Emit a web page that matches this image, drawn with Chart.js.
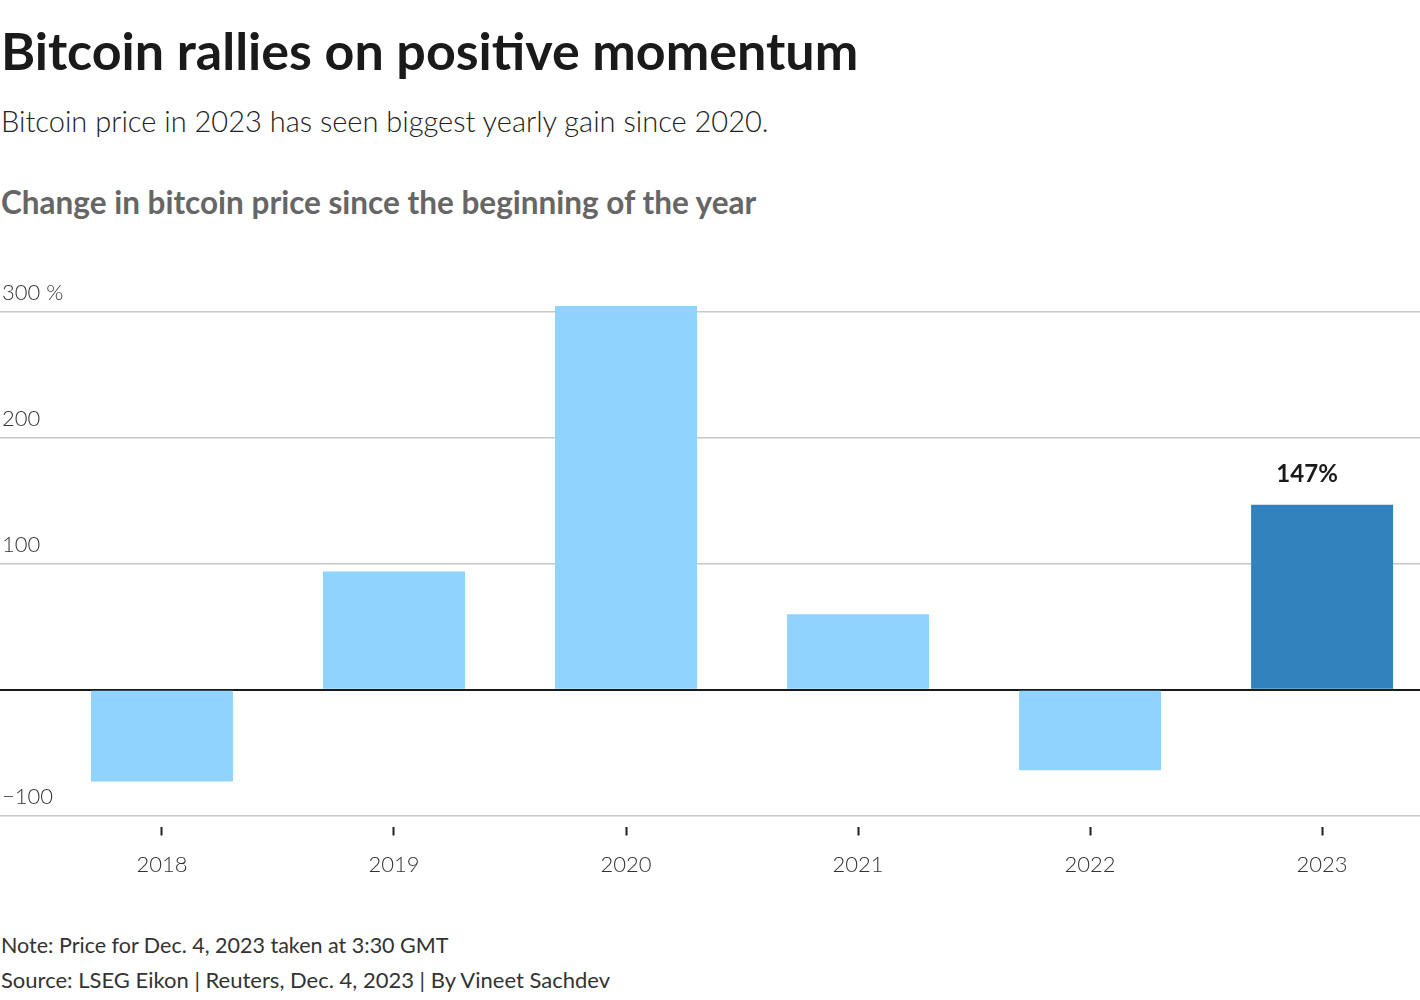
<!DOCTYPE html>
<html lang="en">
<head>
  <meta charset="UTF-8">
  <title>Bitcoin rallies on positive momentum</title>
  <script src="https://cdn.jsdelivr.net/npm/chart.js"></script>
  <style>
    body { margin: 0; width: 1420px; height: 1000px; overflow: hidden; background: #fff; font-family: Lato, sans-serif; color: #1a1a1a; position: relative; }
    .txt { position: absolute; left: 1px; white-space: nowrap; }
    #title { top: 19px; font-size: 52px; font-weight: 700; }
    #subtitle { top: 103px; font-size: 29px; font-weight: 300; color: #222; }
    #chartTitle { top: 183px; font-size: 31.5px; font-weight: 700; color: #666; }
    #note { top: 932px; font-size: 21.5px; color: #333; }
    #source { top: 966px; font-size: 22px; color: #333; }
    #chartBox { position: absolute; left: 0; top: 240px; width: 1420px; height: 680px; }
  </style>
</head>
<body>
  <div class="txt" id="title">Bitcoin rallies on positive momentum</div>
  <div class="txt" id="subtitle">Bitcoin price in 2023 has seen biggest yearly gain since 2020.</div>
  <div class="txt" id="chartTitle">Change in bitcoin price since the beginning of the year</div>
  <div id="chartBox"><canvas id="btcChart"></canvas></div>
  <div class="txt" id="note">Note: Price for Dec. 4, 2023 taken at 3:30 GMT</div>
  <div class="txt" id="source">Source: LSEG Eikon | Reuters, Dec. 4, 2023 | By Vineet Sachdev</div>
  <script>
    // values (% change since start of year)
    const years = [2018, 2019, 2020, 2021, 2022, 2023];
    const changes = [-73, 94, 305, 60, -64, 147];
    const barLabels = ['', '', '', '', '', '147%'];
    const yTicks = [-100, 0, 100, 200, 300];

    const lightBlue = '#8fd3fe';
    const darkBlue = '#3182bd';

    const valueLabels = {
      id: 'valueLabels',
      afterDatasetsDraw(chart) {
        const ctx = chart.ctx;
        const bars = chart.getDatasetMeta(0).data;
        ctx.save();
        ctx.font = 'bold 24px Lato, sans-serif';
        ctx.fillStyle = '#1a1a1a';
        ctx.textAlign = 'center';
        ctx.textBaseline = 'bottom';
        bars.forEach((bar, i) => {
          if (barLabels[i]) ctx.fillText(barLabels[i], bar.x - 15, bar.y - 18);
        });
        ctx.restore();
      }
    };

    new Chart(document.getElementById('btcChart'), {
      type: 'bar',
      data: {
        datasets: [{
          data: years.map((y, i) => ({ x: y, y: changes[i] })),
          backgroundColor: years.map(y => y === 2023 ? darkBlue : lightBlue),
          barPercentage: 0.612,
          categoryPercentage: 1
        }]
      },
      options: {
        responsive: true,
        maintainAspectRatio: false,
        animation: false,
        layout: { padding: { top: 47, bottom: 26, left: 0, right: 0 } },
        plugins: { legend: { display: false }, tooltip: { enabled: false } },
        scales: {
          x: {
            type: 'linear',
            min: 2017.302,
            max: 2023.422,
            offset: false,
            afterBuildTicks: scale => { scale.ticks = years.map(v => ({ value: v })); },
            border: { display: false },
            grid: {
              offset: false,
              drawOnChartArea: false,
              drawTicks: true,
              tickLength: 20,
              tickWidth: 2,
              tickColor: '#222',
              tickBorderDash: [0, 11, 9, 100]
            },
            ticks: {
              padding: 16,
              color: '#333',
              font: { family: 'Lato', size: 22, weight: 300 },
              callback: v => String(v)
            }
          },
          y: {
            min: -100,
            max: 320,
            afterBuildTicks: scale => { scale.ticks = yTicks.map(v => ({ value: v })); },
            afterFit: scale => { scale.width = 0; },
            border: { display: false },
            grid: {
              drawTicks: false,
              color: ctx => ctx.tick.value === 0 ? '#1a1a1a' : '#c8c8c8',
              lineWidth: ctx => ctx.tick.value === 0 ? 2 : 1.5
            },
            ticks: {
              mirror: true,
              padding: 2,
              labelOffset: -19,
              color: '#333',
              font: { family: 'Lato', size: 22, weight: 300 },
              callback: v => v === 0 ? '' : v === 300 ? '300 %' : v < 0 ? '\u2212' + Math.abs(v) : String(v)
            }
          }
        }
      },
      plugins: [valueLabels]
    });
  </script>
</body>
</html>
